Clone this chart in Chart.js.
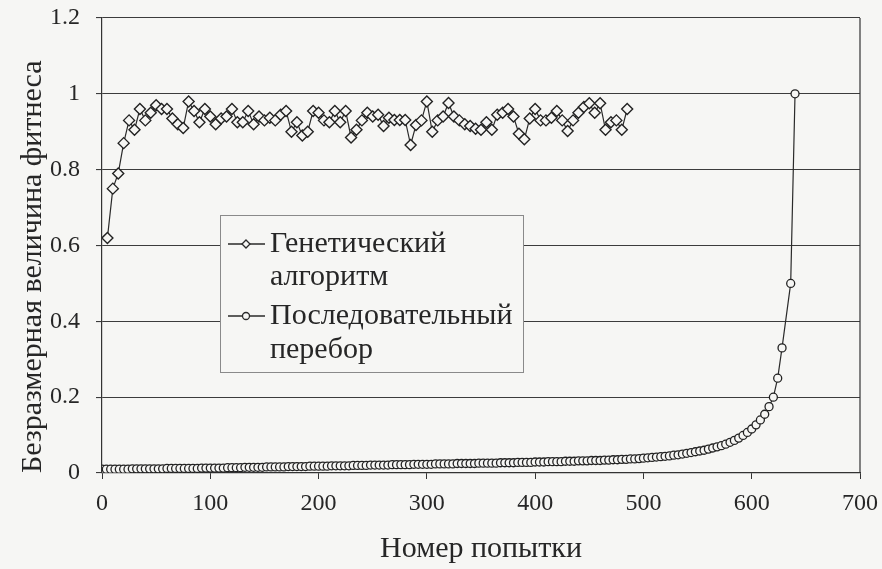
<!DOCTYPE html>
<html><head><meta charset="utf-8">
<script src="https://cdn.jsdelivr.net/npm/chart.js@4/dist/chart.umd.min.js"></script>
<style>html,body{margin:0;padding:0;background:#f6f6f4;}#wrap{width:882px;height:569px;position:relative;}</style>
</head><body><div id="wrap"><canvas id="c" width="882" height="569"></canvas></div>
<script>
const gaX = [5,10,15,20,25,30,35,40,45,50,55,60,65,70,75,80,85,90,95,100,105,110,115,120,125,130,135,140,145,150,155,160,165,170,175,180,185,190,195,200,205,210,215,220,225,230,235,240,245,250,255,260,265,270,275,280,285,290,295,300,305,310,315,320,325,330,335,340,345,350,355,360,365,370,375,380,385,390,395,400,405,410,415,420,425,430,435,440,445,450,455,460,465,470,475,480,485];
const gaY = [0.62,0.75,0.79,0.87,0.93,0.905,0.96,0.93,0.95,0.97,
0.96,0.96,0.935,0.92,0.91,0.98,0.955,0.925,0.96,0.94,
0.92,0.935,0.94,0.96,0.925,0.925,0.955,0.92,0.94,0.93,
0.937,0.93,0.945,0.955,0.90,0.925,0.89,0.90,0.955,0.95,
0.93,0.925,0.955,0.925,0.955,0.885,0.905,0.93,0.95,0.94,
0.945,0.915,0.937,0.931,0.931,0.931,0.865,0.918,0.93,0.98,
0.90,0.93,0.94,0.976,0.94,0.93,0.92,0.915,0.908,0.905,
0.925,0.905,0.945,0.95,0.96,0.94,0.895,0.88,0.935,0.96,
0.93,0.93,0.937,0.955,0.93,0.902,0.93,0.95,0.965,0.975,
0.95,0.975,0.905,0.925,0.93,0.905,0.96];
const seqX = [0,4,8,12,16,20,24,28,32,36,40,44,48,52,56,60,64,68,72,76,80,84,88,92,96,100,104,108,112,116,120,124,128,132,136,140,144,148,152,156,160,164,168,172,176,180,184,188,192,196,200,204,208,212,216,220,224,228,232,236,240,244,248,252,256,260,264,268,272,276,280,284,288,292,296,300,304,308,312,316,320,324,328,332,336,340,344,348,352,356,360,364,368,372,376,380,384,388,392,396,400,404,408,412,416,420,424,428,432,436,440,444,448,452,456,460,464,468,472,476,480,484,488,492,496,500,504,508,512,516,520,524,528,532,536,540,544,548,552,556,560,564,568,572,576,580,584,588,592,596,600,604,608,612,616,620,624,628,636,640];
const seqY = [0.010,0.010,0.010,0.010,0.010,0.010,0.010,0.011,0.011,0.011,
0.011,0.011,0.011,0.011,0.011,0.012,0.012,0.012,0.012,0.012,
0.012,0.012,0.012,0.013,0.013,0.013,0.013,0.013,0.013,0.014,
0.014,0.014,0.014,0.015,0.015,0.015,0.015,0.015,0.016,0.016,
0.016,0.016,0.016,0.017,0.017,0.017,0.017,0.017,0.018,0.018,
0.018,0.018,0.018,0.019,0.019,0.019,0.019,0.019,0.020,0.020,
0.020,0.020,0.021,0.021,0.021,0.021,0.021,0.022,0.022,0.022,
0.022,0.022,0.023,0.023,0.023,0.023,0.023,0.024,0.024,0.024,
0.024,0.024,0.025,0.025,0.025,0.025,0.025,0.026,0.026,0.026,
0.026,0.026,0.027,0.027,0.027,0.027,0.028,0.028,0.028,0.028,
0.029,0.029,0.029,0.030,0.030,0.030,0.030,0.031,0.031,0.031,
0.032,0.032,0.032,0.033,0.033,0.033,0.034,0.034,0.035,0.035,
0.036,0.036,0.037,0.037,0.038,0.039,0.040,0.041,0.042,0.043,
0.044,0.045,0.047,0.048,0.050,0.052,0.054,0.056,0.058,0.060,
0.063,0.066,0.069,0.072,0.076,0.081,0.086,0.092,0.099,0.107,
0.116,0.127,0.140,0.155,0.175,0.20,0.25,0.33,
0.50,1.0];
const xTicks = [0,100,200,300,400,500,600,700];
const yTicks = [0,0.2,0.4,0.6,0.8,1,1.2];
const gaName = ['Генетический','алгоритм'];
const seqName = ['Последовательный','перебор'];
const xTitle = 'Номер попытки';
const yTitle = 'Безразмерная величина фитнеса';

const BG = '#f6f6f4';
const INK = '#262626';
const FONT = '"Liberation Serif", "DejaVu Serif", serif';

const frame = {
  id: 'frame',
  beforeDraw(chart) {
    const c = chart.ctx;
    c.save(); c.fillStyle = BG; c.fillRect(0, 0, chart.width, chart.height); c.restore();
  },
  afterDatasetsDraw(chart) {
    const {ctx, chartArea: a} = chart;
    ctx.save();
    ctx.strokeStyle = '#333'; ctx.lineWidth = 1.2;
    ctx.beginPath(); ctx.moveTo(a.right, a.top); ctx.lineTo(a.right, a.bottom); ctx.stroke();
    ctx.restore();
  }
};

function drawMarker(ctx, style, x, y, r) {
  ctx.beginPath();
  if (style === 'rectRot') {
    ctx.moveTo(x, y - r); ctx.lineTo(x + r, y); ctx.lineTo(x, y + r); ctx.lineTo(x - r, y); ctx.closePath();
  } else {
    ctx.arc(x, y, r, 0, Math.PI * 2);
  }
  ctx.fillStyle = BG; ctx.fill(); ctx.stroke();
}

const legendBox = {
  id: 'legendBox',
  afterDraw(chart) {
    const {ctx, chartArea: a} = chart;
    const L = a.left + 118, T = a.top + 197, W = 303, H = 157;
    ctx.save();
    ctx.fillStyle = BG; ctx.fillRect(L, T, W, H);
    ctx.strokeStyle = '#8a8a8a'; ctx.lineWidth = 1; ctx.strokeRect(L + 0.5, T + 0.5, W, H);
    const names = [gaName, seqName];
    const rows = [[T + 29, T + 62], [T + 101, T + 135]];
    ctx.font = '30px ' + FONT; ctx.textBaseline = 'middle'; ctx.textAlign = 'left';
    chart.data.datasets.forEach((ds, i) => {
      const y = rows[i][0];
      ctx.strokeStyle = '#2a2a2a'; ctx.lineWidth = 1.3;
      ctx.beginPath(); ctx.moveTo(L + 8, y); ctx.lineTo(L + 45, y); ctx.stroke();
      drawMarker(ctx, ds.pointStyle, L + 26, y, i === 0 ? 4 : 3.5);
      ctx.fillStyle = INK;
      ctx.fillText(names[i][0], L + 50, rows[i][0]);
      ctx.fillText(names[i][1], L + 50, rows[i][1]);
    });
    ctx.restore();
  }
};

new Chart(document.getElementById('c'), {
  type: 'line',
  data: {
    datasets: [
      {
        label: gaName.join(' '),
        data: gaX.map((x, i) => ({x, y: gaY[i]})),
        borderColor: '#2a2a2a', borderWidth: 1.2,
        pointStyle: 'rectRot', pointRadius: 5.5, pointBorderWidth: 1.4,
        pointBorderColor: '#222', pointBackgroundColor: BG,
        tension: 0, fill: false
      },
      {
        label: seqName.join(' '),
        data: seqX.map((x, i) => ({x, y: seqY[i]})),
        borderColor: '#2a2a2a', borderWidth: 1.2,
        pointStyle: 'circle', pointRadius: 4, pointBorderWidth: 1.3,
        pointBorderColor: '#222', pointBackgroundColor: BG,
        tension: 0, fill: false
      }
    ]
  },
  options: {
    responsive: false, animation: false, devicePixelRatio: 1,
    layout: {padding: {left: 0, right: 22, top: 18, bottom: 0}},
    plugins: {legend: {display: false}, tooltip: {enabled: false}},
    scales: {
      x: {
        type: 'linear', min: 0, max: 700,
        afterBuildTicks: s => { s.ticks = xTicks.map(v => ({value: v})); },
        afterFit: s => { s.height = 96; s.paddingLeft = 0; s.paddingRight = 0; },
        ticks: {color: INK, font: {family: FONT, size: 24}, padding: 10, maxRotation: 0,
                callback: v => String(v)},
        grid: {drawOnChartArea: false, drawTicks: true, tickLength: 6, color: '#333'},
        border: {color: '#333', width: 1.2},
        title: {display: true, text: xTitle, color: INK, font: {family: FONT, size: 30}, padding: {top: 0, bottom: 2}}
      },
      y: {
        min: 0, max: 1.2,
        afterBuildTicks: s => { s.ticks = yTicks.map(v => ({value: v})); },
        afterFit: s => { s.width = 102; s.paddingTop = 0; s.paddingBottom = 0; },
        ticks: {color: INK, font: {family: FONT, size: 24}, padding: 16,
                callback: v => String(+v.toFixed(1))},
        grid: {color: '#3c3c3c', lineWidth: 1.1, tickLength: 6},
        border: {color: '#333', width: 1.2},
        title: {display: true, align: 'start', text: yTitle, color: INK, font: {family: FONT, size: 30}, padding: {top: 15, bottom: 0}}
      }
    }
  },
  plugins: [frame, legendBox]
});
</script></body></html>
